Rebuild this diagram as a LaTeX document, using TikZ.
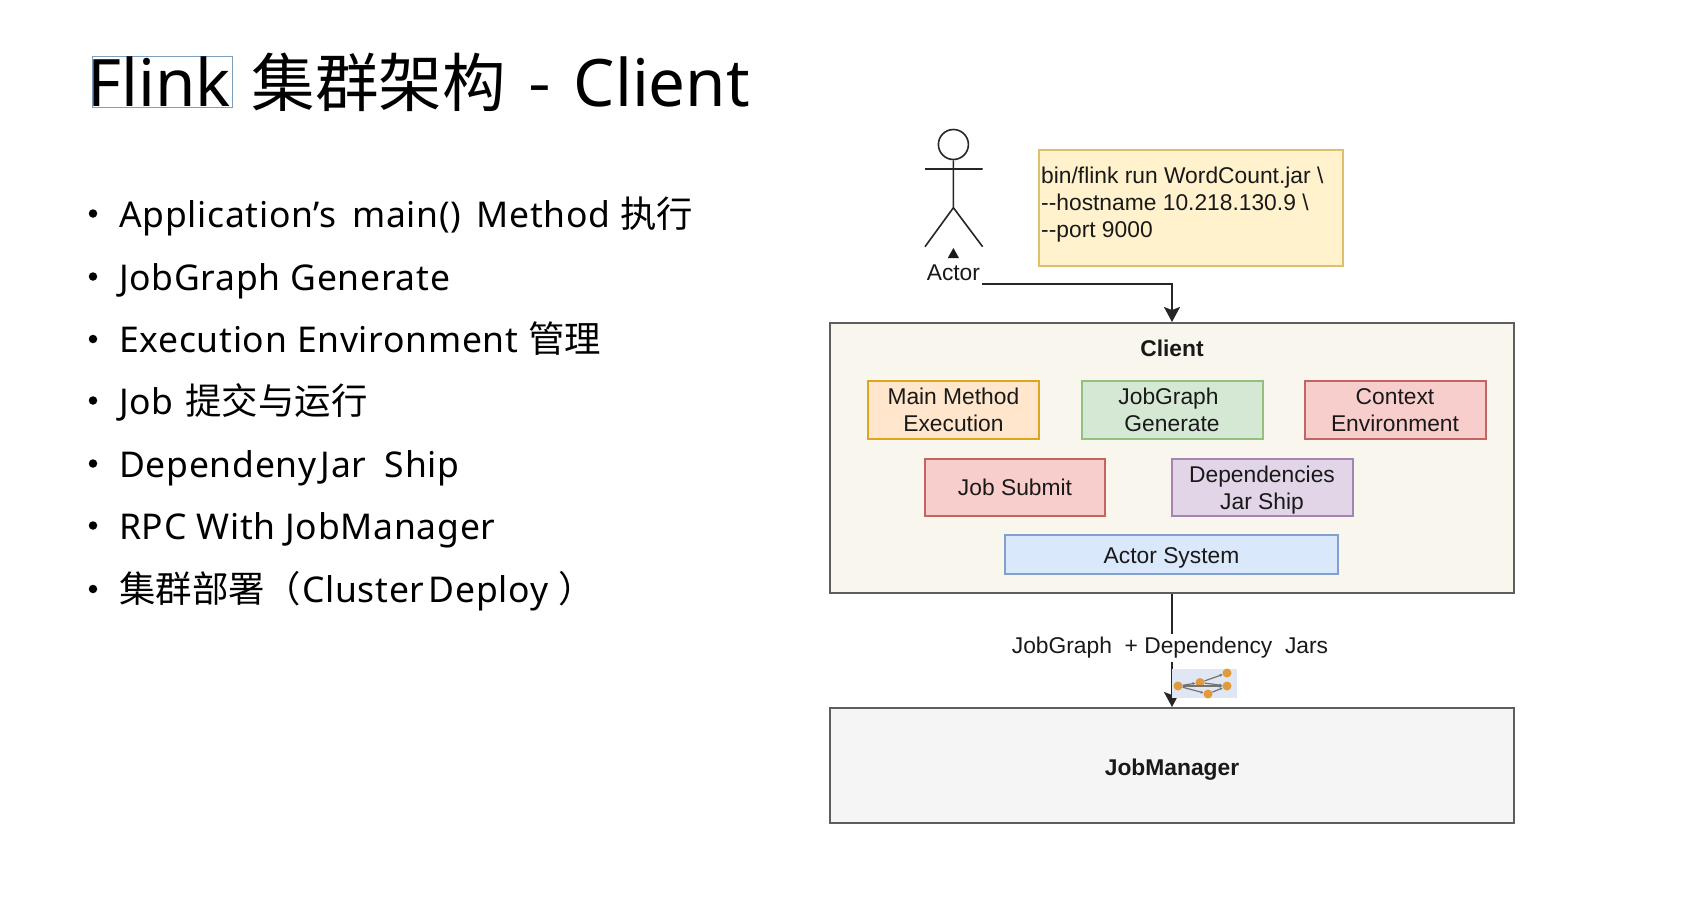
\documentclass[tikz,border=0pt]{standalone}
\usepackage{fontspec}
\setmainfont{Noto Sans}
\newfontfamily\cjk{Noto Sans CJK SC}
\newfontfamily\helv{Liberation Sans}
\newfontfamily\bulletfont[LetterSpace=2]{Noto Sans}
\usetikzlibrary{arrows.meta}
\definecolor{clientfill}{HTML}{F9F7ED}
\definecolor{framegray}{HTML}{5E5E5E}
\definecolor{jmfill}{HTML}{F5F5F5}
\definecolor{iconbg}{HTML}{E0E6F3}
\definecolor{iconnode}{HTML}{E09A3A}
\definecolor{flinkline}{HTML}{7F9FBF}
\newcommand{\zh}[1]{{\cjk\fontsize{36.4}{40}\selectfont #1}}
\tikzset{
  x=1pt,y=-1pt,
  titletext/.style={anchor=base west,inner sep=0pt,font=\fontsize{65.5}{70}\selectfont},
  bullettext/.style={anchor=base west,inner sep=0pt,font=\bulletfont\fontsize{35.5}{40}\selectfont},
  bulletdot/.style={circle,fill=black,inner sep=0pt,minimum size=8.5pt},
  diagramtext/.style={font=\helv\fontsize{22.8}{27}\selectfont,align=center,text=black!90},
  boldtext/.style={diagramtext,font=\helv\bfseries\fontsize{22.8}{27}\selectfont},
  box/.style={diagramtext,draw,line width=2pt,inner sep=0pt},
  smallbox/.style={box,minimum width=#1,minimum height=57.5pt},
  frame/.style={box,draw=framegray,minimum width=684pt},
  flow/.style={line width=2pt,draw=black!85,-{Stealth[length=15pt,width=16pt,inset=3pt]}},
  stick/.style={line width=1.6pt,draw=black!85},
  iconnode/.style={circle,fill=iconnode,inner sep=0pt,minimum size=9pt},
  iconedge/.style={line width=1.2pt,draw=black!55,-{Stealth[length=3pt,width=3pt]}},
}
\begin{document}
\begin{tikzpicture}
\useasboundingbox (0,0) rectangle (1684,914);
\fill[white] (0,0) rectangle (1684,914);

% title
\node[draw=flinkline,line width=1pt,inner sep=0pt,minimum width=140pt,minimum height=51pt] (flinkbox) at (162.5,81.6) {};
\node[titletext] (title) at (87.5,106.7) {Flink\hspace{4pt} {\cjk\fontsize{63.5}{70}\selectfont 集群架构} \hspace{5pt}{\cjk -} \hspace{6pt}Client};

% bullets
\foreach \n/\y in {a/227,b/290,c/352.5,d/414,e/477,f/539,g/602.5}
  \node[bulletdot] (dot\n) at (93,\y-13.5) {};
\node[bullettext] (la) at (119,227) {{\spaceskip=.42em Application’s}\hspace{6pt} {\spaceskip=.42em main() Method} \zh{执行}};
\node[bullettext] (lb) at (119,290) {JobGraph Generate};
\node[bullettext] (lc) at (119,352.5) {Execution Environment \zh{管理}};
\node[bullettext] (ld) at (119,414) {Job\hspace{2pt} \zh{提交与运行}};
\node[bullettext] (le) at (119,477) {{\spaceskip=.12em Dependeny Jar}\hspace{.24em} Ship};
\node[bullettext] (lf) at (119,539) {RPC With JobManager};
\node[bullettext] (lg) at (119,602.5) {\zh{集群部署（}\hspace{1pt}{\spaceskip=.12em Cluster Deploy}\hspace{10pt}\zh{）}};

% actor
\node[circle,stick,inner sep=0pt,minimum size=30pt] (head) at (953.4,144.5) {};
\coordinate (neck) at (953.4,169);
\coordinate (hip) at (953.4,207.7);
\coordinate (armL) at (925,169);
\coordinate (armR) at (982.6,169);
\coordinate (legL) at (925,246.7);
\coordinate (legR) at (982.6,246.7);
\draw[stick] (head.south) -- (hip) (armL) -- (armR) (legL) -- (hip) -- (legR);
\fill[black!90] (953.4,248) -- (959,258) -- (947.8,258) -- cycle;
\node[diagramtext] (actor) at (953.4,272.5) {Actor};
\coordinate (actorout) at (981.7,284.3);

% command note
\node[box,draw={rgb,255:red,222;green,192;blue,106},fill={rgb,255:red,255;green,242;blue,204},minimum width=304pt,minimum height=116pt] (cmd) at (1191,208) {};
\node[diagramtext,align=left,anchor=west,inner sep=0pt] (cmdtext) at (1041,205) {bin/flink run WordCount.jar \textbackslash\\--hostname 10.218.130.9 \textbackslash\\--port 9000};

% client
\node[frame,fill=clientfill,minimum height=270pt] (client) at (1172,458) {};
\node[boldtext] (clienttitle) at (1172,348.5) {Client};
\node[smallbox=171pt,draw={rgb,255:red,222;green,165;blue,30},fill={rgb,255:red,255;green,230;blue,204}] (main) at (953.4,410) {Main Method\\Execution};
\node[smallbox=181pt,draw={rgb,255:red,148;green,192;blue,125},fill={rgb,255:red,213;green,232;blue,212}] (jobgraph) at (1172,410) {\hspace{-7pt}JobGraph\\Generate};
\node[smallbox=181pt,draw={rgb,255:red,196;green,100;blue,96},fill={rgb,255:red,248;green,206;blue,204}] (context) at (1395,410) {Context\\Environment};
\node[smallbox=180pt,draw={rgb,255:red,196;green,100;blue,96},fill={rgb,255:red,248;green,206;blue,204}] (submit) at (1015,487.5) {Job Submit};
\node[smallbox=181pt,draw={rgb,255:red,165;green,132;blue,180},fill={rgb,255:red,225;green,213;blue,231}] (deps) at (1262,487.5) {\rule{0pt}{22.5pt}Dependencies\\Jar Ship};
\node[box,draw={rgb,255:red,130;green,160;blue,205},fill={rgb,255:red,218;green,232;blue,252},minimum width=333pt,minimum height=39pt] (actorsys) at (1171.5,554.5) {\rule{0pt}{23pt}Actor System};

% job manager
\node[frame,fill=jmfill,minimum height=115pt] (jm) at (1172,765.5) {};
\node[boldtext] (jmtitle) at (1172,769.5) {JobManager};

% connectors
\draw[flow] (actorout) -| (client.north);
\draw[flow] (client.south) -- (jm.north);
\node[diagramtext,fill=white,inner sep=0pt,minimum height=28pt] (edgelabel) at (1170,648) {JobGraph \ + Dependency \ Jars};

% graph icon
\node[fill=iconbg,inner sep=0pt,minimum width=65pt,minimum height=29pt] (icon) at (1204.5,683.5) {};
\node[iconnode] (i1) at (1178,686) {};
\node[iconnode] (i2) at (1200,682.5) {};
\node[iconnode] (i3) at (1227,673) {};
\node[iconnode] (i4) at (1227,686) {};
\node[iconnode] (i5) at (1208,694) {};
\draw[iconedge] (i1) -- (i2);
\draw[iconedge] (i2) -- (i3);
\draw[iconedge] (i2) -- (i4);
\draw[iconedge] (i1) -- (i5);
\draw[iconedge] (i1) -- (i4);
\draw[iconedge] (i5) -- (i4);
\end{tikzpicture}
\end{document}
